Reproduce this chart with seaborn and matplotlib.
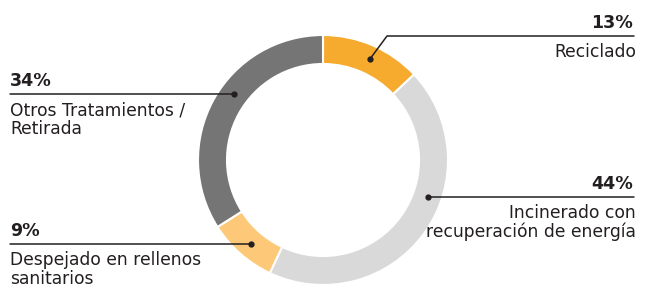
import numpy as np
import matplotlib
matplotlib.use("Agg")
import matplotlib.pyplot as plt
import seaborn as sns

categories = ["Reciclado", "Incinerado con\nrecuperación de energía",
              "Despejado en rellenos\nsanitarios", "Otros Tratamientos /\nRetirada"]
values = [13, 44, 9, 34]
pct_labels = ["13%", "44%", "9%", "34%"]

sns.set_theme(style="white")
plt.rcParams['font.family'] = ['DejaVu Sans']

colors = ["#F6AB2F", "#D9D9D9", "#FDC877", "#757575"]
W, H = 648, 289
fig = plt.figure(figsize=(W / 100, H / 100), dpi=100)
ax = fig.add_axes([0, 0, 1, 1])

cx, cy = 323, H - 160
R, width = 125, 29
ax.pie(values, colors=colors, startangle=90, counterclock=False,
       center=(cx, cy), radius=R, frame=True,
       wedgeprops=dict(width=width, edgecolor="white", linewidth=1.5))
ax.set_xlim(0, W)
ax.set_ylim(0, H)
ax.set_aspect("equal")
ax.axis("off")

tc = "#231F20"
rmid = 111
# anchor angles of the annotation dots (degrees)
dot_ang = [65.1, -19.6, -130.7, 143.7]

def dot(i):
    a = np.deg2rad(dot_ang[i])
    return cx + rmid * np.cos(a), cy + rmid * np.sin(a)

fs_pct = 12.6
fs_lab = 12.3

def label(i, x_text, ha, y_line):
    dx = 1 if ha == "right" else 0
    ax.text(x_text - dx, y_line + 8.5, pct_labels[i], ha=ha, va="baseline",
            fontsize=fs_pct, fontweight="bold", color=tc)
    for k, line in enumerate(categories[i].split("\n")):
        ax.text(x_text + 2 * dx, y_line - 21 - 19 * k, line, ha=ha, va="baseline",
                fontsize=fs_lab, color=tc)

# Reciclado (top right)
x0, y0 = dot(0)
ly = H - 36
ax.plot([x0, 387, 634], [y0, ly, ly], color=tc, lw=1.1)
ax.plot(x0, y0, "o", color=tc, ms=3.5)
label(0, 634, "right", ly)

# Incinerado (right)
x0, y0 = dot(1)
ax.plot([x0, 634], [y0, y0], color=tc, lw=1.1)
ax.plot(x0, y0, "o", color=tc, ms=3.5)
label(1, 634, "right", y0)

# Despejado (bottom left)
x0, y0 = dot(2)
ax.plot([10, x0], [y0, y0], color=tc, lw=1.1)
ax.plot(x0, y0, "o", color=tc, ms=3.5)
label(2, 10, "left", y0)

# Otros (left)
x0, y0 = dot(3)
ax.plot([10, x0], [y0, y0], color=tc, lw=1.1)
ax.plot(x0, y0, "o", color=tc, ms=3.5)
label(3, 10, "left", y0)

fig.savefig("out.png", dpi=100)
